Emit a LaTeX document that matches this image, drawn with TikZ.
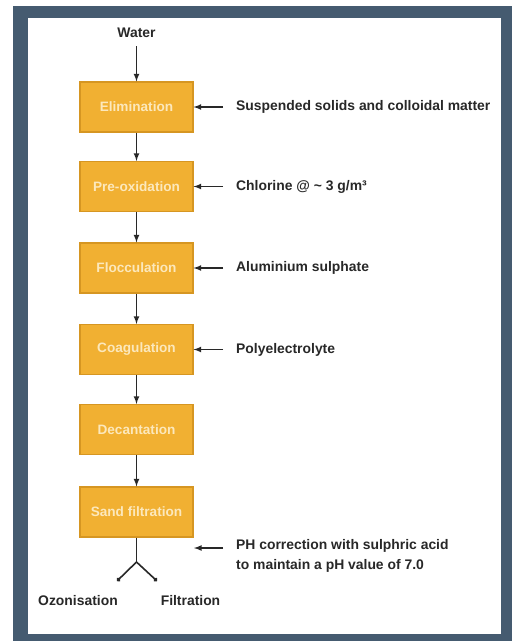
\documentclass[tikz,border=0pt]{standalone}
\usepackage{fontspec}
\setmainfont{Liberation Sans}
\usetikzlibrary{arrows.meta}

\definecolor{framegray}{RGB}{69,91,112}
\definecolor{boxfill}{RGB}{241,176,50}
\definecolor{boxedge}{RGB}{214,150,34}
\definecolor{boxtext}{RGB}{252,232,188}
\definecolor{ink}{RGB}{40,40,40}

\begin{document}
\begin{tikzpicture}[x=1pt, y=-1pt,
    stage/.style={draw=boxedge, line width=1.2pt, fill=boxfill, minimum width=113pt, minimum height=50pt, text=boxtext, font=\bfseries\fontsize{13.6}{16}\selectfont},
    note/.style={anchor=west, inner sep=0pt, text=ink, align=left, font=\bfseries\fontsize{13.9}{20}\selectfont},
    flow/.style={draw=ink, line width=1.6pt}]
    \useasboundingbox (0, 0) rectangle (512, 641);
    \fill[framegray] (13, 6) rectangle (512, 641);
    \fill[white] (28, 18) rectangle (501, 634);

    % main line
    \node[note, anchor=center, inner ysep=8pt] (water) at (136.5, 33) {Water};
    \node[stage] (elim) at (136.5, 107) {Elimination};
    \node[stage] (preox) at (136.5, 186.5) {Pre-oxidation};
    \node[stage] (floc) at (136.5, 268) {Flocculation};
    \node[stage] (coag) at (136.5, 349.5) {Coagulation};
    \node[stage] (decant) at (136.5, 429.5) {Decantation};
    \node[stage] (sand) at (136.5, 512) {Sand filtration};

    \draw[flow, -latex] (water) -- (elim);
    \foreach \a/\b in {elim/preox, preox/floc, floc/coag, coag/decant, decant/sand} {
        \draw[flow, -latex] (\a) -- (\b);
    }

    % dosing
    \node[note] (solids) at (236, 107) {Suspended solids and colloidal matter};
    \node[note] (chlor) at (236, 186.5) {Chlorine @ \textasciitilde\ 3 g/m³};
    \node[note] (alu) at (236, 268) {Aluminium sulphate};
    \node[note] (poly) at (236, 349.5) {Polyelectrolyte};
    \node[note, anchor=north west] (ph) at (236, 539) {PH correction with sulphric acid\\to maintain a pH value of 7.0};

    \draw[flow, -latex] ([xshift=-13pt]solids.west) -- (elim.east);
    \draw[flow, -latex] ([xshift=-13pt]chlor.west) -- (preox.east);
    \draw[flow, -latex] ([xshift=-13pt]alu.west) -- (floc.east);
    \draw[flow, -latex] ([xshift=-13pt]poly.west) -- (coag.east);
    \coordinate (phtail) at (223, 548);
    \coordinate (phhead) at (194, 548);
    \draw[flow, -latex] (phtail) -- (phhead);

    % outlets
    \coordinate (fork) at (136.5, 562);
    \coordinate (ozoend) at (117, 581);
    \coordinate (filend) at (157, 581);
    \node[note, anchor=center] (ozo) at (78, 601) {Ozonisation};
    \node[note, anchor=center] (filt) at (190.5, 601) {Filtration};
    \draw[flow] (sand) -- (fork);
    \draw[flow, -{Circle[length=4pt]}] (fork) -- (ozoend);
    \draw[flow, -{Circle[length=4pt]}] (fork) -- (filend);
\end{tikzpicture}
\end{document}
